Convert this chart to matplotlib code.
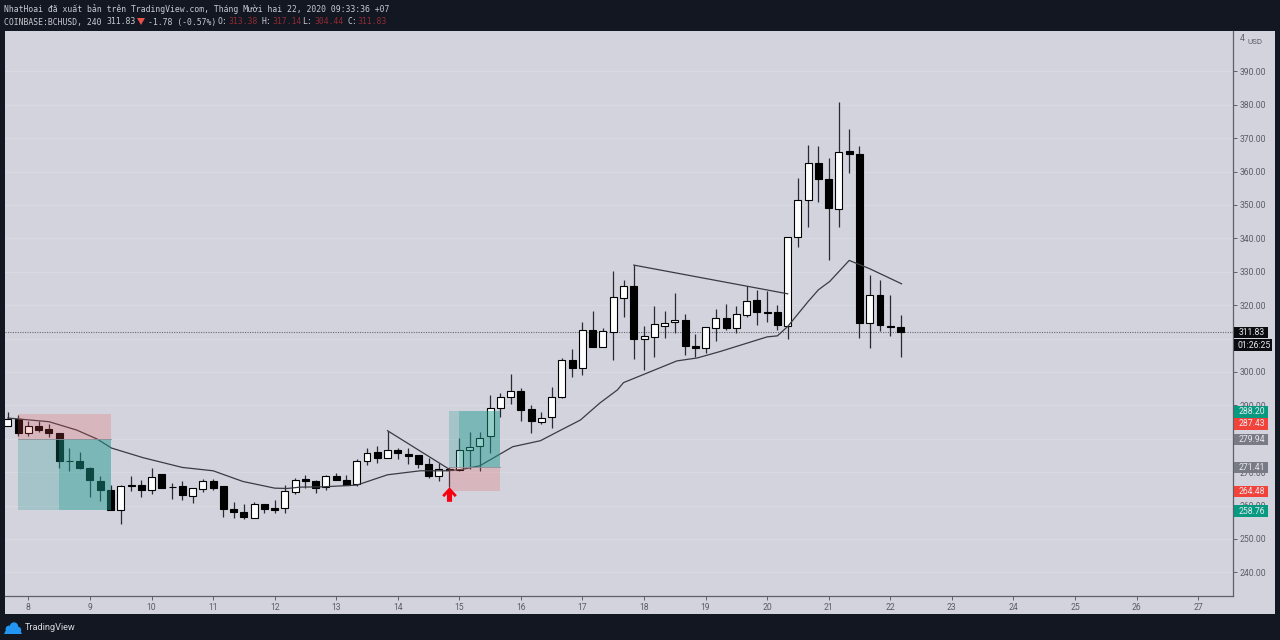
"""
BCHUSD 4h candle chart, TradingView export look
"""
import matplotlib
matplotlib.use('Agg')
import matplotlib.pyplot as plt
from matplotlib.patches import Rectangle, Polygon, Circle
from matplotlib.path import Path
from matplotlib.transforms import IdentityTransform

W, H = 1280, 640

# Candles, 4h bars, first bar is two bars before the 8th
opens = [283.7, 285.8, 281.6, 283.8, 282.8, 281.8, 273.4, 273.2, 271.3, 267.2, 264.7, 258.6, 266.0, 266.1, 264.5,
         269.3, 265.6, 265.7, 262.8, 264.8, 267.4, 265.7, 259.0, 258.1, 256.2, 260.6, 259.2, 259.2, 264.1, 267.8,
         267.2, 265.5, 268.8, 267.7, 266.4, 273.4, 276.0, 274.2, 276.7, 275.5, 275.1, 272.5, 268.7, 270.9, 270.6,
         276.6, 277.8, 280.7, 289.1, 292.4, 294.3, 288.8, 285.1, 286.4, 292.5, 303.6, 301.1, 312.5, 307.4, 312.1,
         322.2, 325.7, 309.8, 310.4, 313.8, 314.9, 315.7, 307.8, 307.3, 313.3, 316.1, 313.1, 317.0, 321.6, 317.9,
         317.9, 313.9, 340.3, 351.6, 362.5, 357.9, 348.8, 366.1, 365.2, 314.8, 323.1, 313.9, 313.38]
highs = [287.9, 287.1, 285.3, 285.4, 284.4, 281.8, 277.3, 276.1, 271.6, 268.9, 266.2, 266.2, 268.9, 267.7, 271.2,
         269.3, 266.7, 267.4, 265.2, 267.9, 267.9, 265.9, 261.0, 260.4, 261.1, 260.6, 261.7, 266.2, 268.2, 269.2,
         267.5, 269.2, 269.8, 269.2, 273.9, 277.3, 277.9, 282.4, 277.3, 277.3, 275.1, 274.2, 272.7, 271.5, 280.2,
         282.0, 282.1, 293.1, 293.7, 299.4, 295.2, 290.1, 288.1, 295.5, 304.2, 306.8, 315.1, 318.1, 313.1, 330.3,
         327.5, 332.0, 313.8, 319.8, 318.1, 323.6, 317.4, 311.4, 313.4, 318.8, 320.3, 319.8, 325.8, 324.4, 324.1,
         319.9, 340.3, 358.2, 368.0, 367.7, 364.0, 380.8, 372.7, 367.8, 329.1, 327.5, 322.9, 317.14]
lows = [283.7, 280.8, 280.8, 282.1, 280.5, 271.3, 270.2, 271.0, 262.6, 261.2, 258.6, 254.5, 264.2, 262.4, 263.5,
        265.3, 261.9, 261.5, 260.9, 263.9, 264.7, 256.7, 256.2, 255.9, 256.2, 257.7, 257.7, 257.7, 263.5, 265.3,
        263.7, 264.5, 267.5, 266.1, 265.9, 272.2, 272.7, 274.2, 273.9, 272.4, 271.2, 268.2, 267.2, 265.5, 270.2,
        270.9, 270.2, 275.7, 286.6, 290.4, 285.4, 281.6, 284.3, 283.2, 292.2, 298.6, 299.1, 307.4, 307.4, 303.6,
        316.6, 303.9, 300.6, 304.6, 310.1, 311.8, 305.1, 304.6, 305.6, 309.3, 312.6, 311.8, 316.4, 314.1, 315.1,
        312.6, 309.9, 337.5, 343.5, 351.0, 333.5, 343.5, 359.5, 310.3, 307.3, 312.3, 310.9, 304.44]
closes = [285.8, 281.7, 283.8, 282.6, 281.6, 273.4, 273.2, 271.3, 267.7, 264.7, 258.6, 265.8, 265.8, 264.5, 268.5,
          265.3, 265.4, 263.0, 265.2, 267.3, 265.3, 258.9, 258.0, 256.6, 260.6, 258.9, 258.8, 264.2, 267.5, 267.4,
          265.2, 268.7, 267.7, 266.1, 273.3, 275.8, 274.2, 276.7, 275.7, 274.9, 272.5, 268.7, 270.8, 270.5, 276.7,
          277.6, 280.3, 289.1, 292.6, 294.3, 288.6, 285.3, 286.3, 292.4, 303.6, 301.1, 312.5, 307.4, 312.2, 322.4,
          325.7, 310.0, 310.7, 314.3, 314.7, 315.7, 307.7, 307.3, 313.4, 316.1, 313.1, 317.3, 321.3, 317.8, 317.7,
          314.0, 340.3, 351.6, 362.5, 357.8, 349.0, 365.8, 365.2, 314.6, 323.1, 314.1, 313.5, 311.83]

# Moving average vertices (bar number, price)
ma_bars = [0, 4, 6.7, 8.7, 10.1, 13.2, 17, 20, 22.9, 26, 27.2, 28.5, 30.7, 34, 37, 40.2, 42.9, 44.4, 46,
           49.2, 51.9, 53.9, 55.8, 57.7, 59.4, 60, 65.2, 67.2, 69.4, 74, 75, 76, 78, 79, 80.1, 82, 84, 87.1]
ma_vals = [286.2, 285.1, 282.6, 279.9, 277.2, 274.3, 271.4, 270.4, 267.2, 265.2, 265.1, 265.5, 265.6, 266.1,
           269.2, 270.4, 270.4, 270.9, 271.9, 277.6, 279.4, 282.6, 285.6, 290.7, 294.6, 296.8, 303.3, 304.2,
           306.1, 310.5, 310.8, 313.6, 321.1, 324.6, 327.1, 333.4, 330.9, 326.4]

# Hand drawn trend lines
trend_bars = [(37, 43), (61, 76)]
trend_vals = [(282.4, 270.9), (332.0, 323.4)]

# Long / short position tools: start bar, inner start, end bar, target, entry, stop
short_pos = (1, 5, 10, 258.76, 279.94, 287.43)
long_pos = (43, 44, 48, 288.20, 271.41, 264.48)

last_price = 311.83
day_ticks = list(range(8, 28))
price_ticks = [240, 250, 260, 270, 280, 290, 300, 310, 320, 330, 340, 350, 360, 370, 380, 390]

# Right hand price tags
tag_texts = ['311.83', '01:26:25', '288.20', '287.43', '279.94', '271.41', '264.48', '258.76']
tag_colors = ['#0b0c10', '#0b0c10', '#089981', '#f2433a', '#787b86', '#787b86', '#f2433a', '#089981']

BG = '#d2d3dd'
DARK = '#131722'
GRID = '#d9dae2'
AXIS = '#5d606b'
TEXT = '#5a5d68'


def px(x, y):
    return x / W, 1 - y / H


def bar_of_day(d):
    return 2 + (d - 8) * 6


plt.rcParams['font.family'] = ['Roboto', 'DejaVu Sans']
fig = plt.figure(figsize=(W / 100, H / 100), dpi=100, facecolor=DARK)

# Light panel behind chart and both axes
fig.patches.append(Rectangle(px(5, 614), 1270 / W, 583 / H, transform=fig.transFigure, facecolor=BG,
                             edgecolor='none', zorder=-1))

x0, y0 = px(5, 596)
ax = fig.add_axes([x0, y0, 1228 / W, 565 / H])
ax.patch.set_alpha(0)
ax.set_xlim((5 - 7.9) / 10.26, (1233 - 7.9) / 10.26)
ax.set_ylim(232.9, 402.1)

ax.yaxis.tick_right()
ax.set_yticks(price_ticks)
# 310 sits fully behind the last price tags
ax.set_yticklabels(['' if p == 310 else f'{p:.2f}' for p in price_ticks])
ax.set_xticks([bar_of_day(d) for d in day_ticks])
ax.set_xticklabels([str(d) for d in day_ticks])
ax.tick_params(axis='y', length=3, width=0.7, color=AXIS, labelcolor=TEXT, labelsize=6.2, pad=2)
ax.tick_params(axis='x', length=3, width=0.7, color=AXIS, labelcolor=TEXT, labelsize=6.2, pad=2)
ax.grid(True, axis='y', color=GRID, linewidth=0.7)
ax.set_axisbelow(True)
for s in ['top', 'left']:
    ax.spines[s].set_visible(False)
for s in ['right', 'bottom']:
    ax.spines[s].set_color(AXIS)
    ax.spines[s].set_linewidth(0.9)

# Last price line
ax.axhline(last_price, color='#666974', linewidth=0.8, linestyle=(0, (1, 1.2)), zorder=1)

# Candles
bars = list(range(len(opens)))
ax.vlines(bars, lows, highs, color='#2a2a30', linewidth=0.9, zorder=2)
for i in bars:
    up = closes[i] >= opens[i]
    top = max(opens[i], closes[i])
    bot = min(opens[i], closes[i])
    ax.bar(i, top - bot, bottom=bot, width=0.68, color='white' if up else 'black', edgecolor='black',
           linewidth=0.8, zorder=3)

ax.plot(ma_bars, ma_vals, color='#3a3b42', linewidth=0.9, zorder=4)
for b, v in zip(trend_bars, trend_vals):
    ax.plot(b, v, color='#3a3b42', linewidth=0.9, zorder=4)


# Position tools sit on top of the candles
def draw_position(pos):
    start, inner, end, target, entry, stop = pos
    ax.add_patch(Rectangle((start, min(entry, target)), end - start, abs(target - entry),
                           facecolor='#1f9a8f', alpha=0.25, edgecolor='none', zorder=5))
    ax.add_patch(Rectangle((inner, min(entry, target)), end - inner, abs(target - entry),
                           facecolor='#1f9a8f', alpha=0.3, edgecolor='none', zorder=5))
    ax.add_patch(Rectangle((start, min(entry, stop)), end - start, abs(stop - entry),
                           facecolor='#ef5350', alpha=0.22, edgecolor='none', zorder=5))
    ax.plot([start, end], [entry, entry], color='#8b8f98', linewidth=0.6, zorder=5)


draw_position(short_pos)
draw_position(long_pos)

# Red arrow under the entry bar
arrow = Path([(0, 1), (1, -0.1), (0.72, -0.36), (0.35, 0.05), (0.35, -1), (-0.35, -1), (-0.35, 0.05),
              (-0.72, -0.36), (-1, -0.1), (0, 1)], closed=True)
ax.plot(43, 263.3, marker=arrow, markersize=10.5, color='#f7000f', markeredgecolor='none', zorder=6, clip_on=False)

# Price tags over the axis labels, pixel rows taken from the export
tag_rows = [(327, 338), (339, 351), (406, 418), (418, 430), (434, 445), (462, 473), (486, 497), (505, 517)]
tag_right = [1268, 1272, 1268, 1268, 1268, 1268, 1268, 1268]
for txt, col, (t, b), r in zip(tag_texts, tag_colors, tag_rows, tag_right):
    fig.patches.append(Rectangle(px(1234, b), (r - 1234) / W, (b - t) / H, transform=fig.transFigure,
                                 facecolor=col, edgecolor='none', zorder=5))
    cx, cy = px((1234 + r) / 2 + 1, (t + b) / 2)
    fig.text(cx, cy, txt, color='#e8e9ee', fontsize=6.2, ha='center', va='center', zorder=6)

# Overlapped 400 label and currency
fig.text(*px(1240, 38.5), '4', color=TEXT, fontsize=6.2, ha='left', va='center')
fig.text(*px(1248, 41.5), 'USD', color=TEXT, fontsize=5.8, ha='left', va='center')

# Header lines
MONO = ['DejaVu Sans Mono', 'DejaVu Sans']
HEAD = '#c8cad2'
VAL = '#8f2b33'
fig.text(*px(4, 9), 'NhatHoai đã xuất bản trên TradingView.com, Tháng Mười hai 22, 2020 09:33:36 +07',
         color=HEAD, fontsize=5.85, family=MONO, va='center')
fig.text(*px(4, 22), 'COINBASE:BCHUSD, 240', color=HEAD, fontsize=5.85, family=MONO, va='center')
fig.text(*px(106, 22), '311.83', color=HEAD, fontsize=5.85, family=MONO, va='center')
fig.patches.append(Polygon([px(137, 18), px(145, 18), px(141, 25)], closed=True, transform=fig.transFigure,
                           facecolor='#e8524a', edgecolor='none'))
fig.text(*px(147.5, 22), '-1.78 (-0.57%)', color=HEAD, fontsize=5.85, family=MONO, va='center')
for lab, val, lx, vx in [('O:', '313.38', 218, 228.5), ('H:', '317.14', 262, 272), ('L:', '304.44', 302, 314),
                         ('C:', '311.83', 347, 357)]:
    fig.text(*px(lx, 22), lab, color=HEAD, fontsize=5.85, family=MONO, va='center')
    fig.text(*px(vx, 22), val, color=VAL, fontsize=5.85, family=MONO, va='center')

# Footer logo, cloud made of circles over a base
LOGO = '#2196f3'
fig.patches.append(Polygon([px(4, 634), px(22, 634), px(19, 628), px(7, 628)], closed=True,
                           transform=fig.transFigure, facecolor=LOGO, edgecolor='none'))
for cx_, cy_, r_ in [(9, 629, 3.4), (14, 626.5, 4.2), (18, 630, 3.2)]:
    fig.patches.append(Circle((cx_, H - cy_), r_, transform=IdentityTransform(), facecolor=LOGO, edgecolor='none'))
fig.text(*px(24.5, 628), 'TradingView', color='#d8dae0', fontsize=6.6, va='center')

fig.savefig('out.png', dpi=100, facecolor=DARK)
plt.close(fig)
